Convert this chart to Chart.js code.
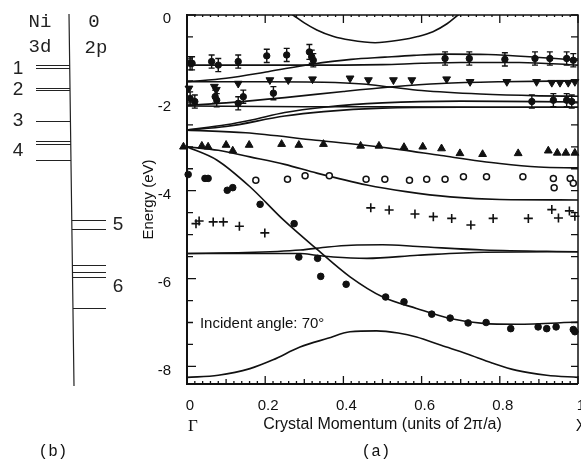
<!DOCTYPE html>
<html>
<head>
<meta charset="utf-8">
<script src="https://cdn.jsdelivr.net/npm/chart.js@4.4.0/dist/chart.umd.min.js"></script>
<style>
  html, body { margin: 0; padding: 0; background: #fff; overflow: hidden; }
</style>
</head>
<body>
<canvas id="bands" width="600" height="463"></canvas>
<script>
// axis ranges and tick labels
const xMin = 0, xMax = 1;
const yMin = -8.4, yMax = 0;
const xTickValues = [0, 0.2, 0.4, 0.6, 0.8, 1];
const yTickValues = [-8, -6, -4, -2, 0];

// calculated bands, [k, E] pairs (k in units of 2pi/a, E in eV)
const bandTop = [[0.25, 0.12], [0.271, 0], [0.30, -0.18], [0.332, -0.34], [0.375, -0.49], [0.417, -0.57], [0.481, -0.63], [0.545, -0.57], [0.59, -0.49], [0.629, -0.38], [0.665, -0.2], [0.693, 0], [0.71, 0.12]];
const bandD1 = [[0, -1.14], [0.2, -1.14], [0.4, -1.14], [0.5, -1.13], [0.6, -1.1], [0.7, -1.08], [0.85, -1.08], [1, -1.14]];
const bandD2 = [[0, -1.52], [0.1, -1.44], [0.207, -1.29], [0.319, -1.12], [0.42, -1.01], [0.506, -0.96], [0.58, -0.92], [0.664, -0.89], [0.77, -0.9], [0.877, -0.95], [1, -1.03]];
const bandD3 = [[0, -1.52], [0.2, -1.52], [0.35, -1.53], [0.45, -1.57], [0.52, -1.64], [0.6, -1.72], [0.75, -1.8], [0.9, -1.84], [1, -1.85]];
const bandD4 = [[0, -2.06], [0.1, -2.0], [0.25, -1.88], [0.4, -1.74], [0.52, -1.64], [0.65, -1.56], [0.8, -1.52], [1, -1.5]];
const bandD5 = [[0, -2.07], [0.3, -2.09], [0.5, -2.09], [0.75, -2.1], [1, -2.1]];
const bandD6 = [[0, -2.62], [0.1, -2.5], [0.165, -2.39], [0.25, -2.22], [0.35, -2.1], [0.5, -2.0], [0.7, -1.96], [1, -1.98]];
const bandD7 = [[0, -2.62], [0.1, -2.54], [0.25, -2.3], [0.35, -2.2], [0.5, -2.12], [0.7, -2.1], [1, -2.1]];
const bandP1 = [[0, -2.62], [0.15, -2.68], [0.33, -2.85], [0.45, -2.96], [0.55, -3.07], [0.65, -3.2], [0.8, -3.38], [0.9, -3.46], [1, -3.48]];
const bandP2 = [[0, -3.0], [0.08, -3.08], [0.161, -3.23], [0.25, -3.4], [0.332, -3.6], [0.46, -3.87], [0.56, -4.02], [0.673, -4.14], [0.8, -4.2], [1, -4.21]];
const bandP3 = [[0, -3.0], [0.076, -3.3], [0.161, -3.91], [0.246, -4.66], [0.332, -5.33], [0.417, -5.96], [0.501, -6.42], [0.587, -6.68], [0.673, -6.91], [0.757, -7.02], [0.843, -7.04], [1, -6.99]];
const bandS1 = [[0, -5.43], [0.15, -5.41], [0.29, -5.35], [0.36, -5.28], [0.42, -5.24], [0.5, -5.23], [0.59, -5.27], [0.76, -5.35], [1, -5.39]];
const bandS2 = [[0, -5.43], [0.29, -5.43], [0.33, -5.47], [0.374, -5.51], [0.46, -5.54], [0.59, -5.47], [0.76, -5.4], [1, -5.39]];
const bandLow = [[0, -8.25], [0.08, -8.2], [0.161, -8.05], [0.22, -7.85], [0.289, -7.56], [0.36, -7.36], [0.417, -7.21], [0.485, -7.19], [0.54, -7.24], [0.587, -7.33], [0.65, -7.52], [0.715, -7.71], [0.78, -7.92], [0.843, -8.09], [0.92, -8.2], [1, -8.25]];

// measured peaks
const errUpper = [[0.008, -1.10], [0.013, -1.10], [0.063, -1.06], [0.08, -1.14], [0.131, -1.06], [0.204, -0.93], [0.255, -0.91], [0.313, -0.84], [0.319, -0.95], [0.323, -1.03], [0.66, -0.99], [0.722, -0.99], [0.813, -1.01], [0.89, -0.99], [0.928, -0.99], [0.971, -0.99], [0.988, -1.03]];
const errUpperSize = [0.15, 0.15, 0.15, 0.15, 0.15, 0.15, 0.15, 0.17, 0.15, 0.15, 0.15, 0.15, 0.15, 0.15, 0.15, 0.15, 0.15];
const errLower = [[0.008, -1.90], [0.02, -1.97], [0.072, -1.86], [0.076, -1.94], [0.131, -2.01], [0.144, -1.86], [0.221, -1.78], [0.882, -1.97], [0.937, -1.94], [0.971, -1.94], [0.984, -1.97]];
const errLowerSize = [0.15, 0.15, 0.15, 0.15, 0.15, 0.15, 0.15, 0.15, 0.15, 0.15, 0.15];
const downTri = [[0.005, -1.67], [0.07, -1.63], [0.075, -1.70], [0.131, -1.56], [0.212, -1.48], [0.259, -1.48], [0.321, -1.46], [0.417, -1.44], [0.464, -1.48], [0.528, -1.48], [0.575, -1.48], [0.664, -1.46], [0.724, -1.52], [0.818, -1.52], [0.894, -1.52], [0.933, -1.54], [0.954, -1.54], [0.975, -1.54], [0.992, -1.52]];
const upTri = [[-0.009, -3.0], [0.038, -2.98], [0.054, -3.0], [0.1, -2.96], [0.117, -3.09], [0.159, -2.96], [0.242, -2.94], [0.286, -2.96], [0.349, -2.94], [0.444, -2.98], [0.491, -2.98], [0.555, -3.01], [0.603, -3.0], [0.651, -3.04], [0.698, -3.15], [0.756, -3.17], [0.847, -3.15], [0.924, -3.09], [0.947, -3.14], [0.969, -3.14], [0.992, -3.14]];
const openCirc = [[0.176, -3.76], [0.257, -3.74], [0.302, -3.66], [0.364, -3.66], [0.458, -3.74], [0.506, -3.74], [0.569, -3.76], [0.613, -3.74], [0.66, -3.74], [0.707, -3.68], [0.766, -3.68], [0.859, -3.68], [0.937, -3.72], [0.939, -3.93], [0.98, -3.72], [0.988, -3.83]];
const crosses = [[0.023, -4.75], [0.031, -4.69], [0.067, -4.71], [0.093, -4.71], [0.134, -4.81], [0.199, -4.96], [0.47, -4.39], [0.517, -4.44], [0.583, -4.53], [0.63, -4.59], [0.677, -4.63], [0.726, -4.78], [0.783, -4.63], [0.873, -4.63], [0.933, -4.43], [0.95, -4.62], [0.978, -4.46], [0.992, -4.58]];
const filledCirc = [[0.003, -3.63], [0.046, -3.72], [0.054, -3.72], [0.103, -3.99], [0.117, -3.93], [0.187, -4.31], [0.274, -4.75], [0.286, -5.51], [0.334, -5.54], [0.342, -5.95], [0.407, -6.13], [0.508, -6.42], [0.555, -6.53], [0.626, -6.81], [0.673, -6.9], [0.719, -7.01], [0.765, -7.0], [0.828, -7.14], [0.898, -7.1], [0.92, -7.14], [0.944, -7.1], [0.988, -7.16], [0.992, -7.21]];

// panel (b): cluster levels (eV)
const niLevels = [-1.14, -1.21, -1.67, -1.71, -2.41, -2.86, -2.94, -3.30];
const oLevels = [-4.67, -4.88, -5.68, -5.85, -5.96, -6.66];
const niTags = ['1', '2', '3', '4'];
const niTagE = [-1.22, -1.70, -2.40, -3.09];
const oTags = ['5', '6'];
const oTagE = [-4.78, -6.18];

const ink = '#111';
const toXY = pts => pts.map(([k, e]) => ({x: k, y: e}));

const bandLines = [bandTop, bandD1, bandD2, bandD3, bandD4, bandD5, bandD6, bandD7,
  bandP1, bandP2, bandP3, bandS1, bandS2, bandLow].map(b => ({
  data: toXY(b),
  showLine: true,
  borderColor: ink,
  borderWidth: 1.6,
  pointRadius: 0,
  cubicInterpolationMode: 'monotone',
  clip: 0
}));

const markers = [
  {data: toXY(errUpper), errors: errUpperSize, pointStyle: 'circle', pointRadius: 3.2, backgroundColor: ink, borderColor: ink, borderWidth: 1},
  {data: toXY(errLower), errors: errLowerSize, pointStyle: 'circle', pointRadius: 3.2, backgroundColor: ink, borderColor: ink, borderWidth: 1},
  {data: toXY(downTri), pointStyle: 'triangle', rotation: 180, pointRadius: 4.5, backgroundColor: ink, borderColor: ink, borderWidth: 1},
  {data: toXY(upTri), pointStyle: 'triangle', pointRadius: 4.5, backgroundColor: ink, borderColor: ink, borderWidth: 1},
  {data: toXY(openCirc), pointStyle: 'circle', pointRadius: 3, backgroundColor: '#fff', borderColor: ink, borderWidth: 1.5},
  {data: toXY(crosses), pointStyle: 'cross', pointRadius: 4.5, borderColor: ink, borderWidth: 1.6},
  {data: toXY(filledCirc), pointStyle: 'circle', pointRadius: 3.3, backgroundColor: ink, borderColor: ink, borderWidth: 1}
].map(d => Object.assign(d, {showLine: false, clip: false}));

// vertical error bars with small caps
const errorBars = {
  id: 'errorBars',
  afterDatasetsDraw(chart) {
    const {ctx, scales: {x, y}} = chart;
    ctx.save();
    ctx.strokeStyle = ink;
    ctx.lineWidth = 1.4;
    chart.data.datasets.forEach(ds => {
      if (!ds.errors) return;
      ds.data.forEach((p, i) => {
        const px = x.getPixelForValue(p.x);
        const y1 = y.getPixelForValue(p.y + ds.errors[i]);
        const y2 = y.getPixelForValue(p.y - ds.errors[i]);
        ctx.beginPath();
        ctx.moveTo(px, y1); ctx.lineTo(px, y2);
        ctx.moveTo(px - 3, y1); ctx.lineTo(px + 3, y1);
        ctx.moveTo(px - 3, y2); ctx.lineTo(px + 3, y2);
        ctx.stroke();
      });
    });
    ctx.restore();
  }
};

// box, inward ticks, extra labels and the level diagram on the left
const frame = {
  id: 'frame',
  afterDraw(chart) {
    const {ctx, chartArea: a, scales: {x, y}} = chart;
    ctx.save();
    ctx.strokeStyle = ink;

    ctx.lineWidth = 2;
    ctx.beginPath();
    ctx.moveTo(a.left, a.top - 1); ctx.lineTo(a.left, a.bottom); ctx.lineTo(a.right, a.bottom);
    ctx.stroke();
    ctx.lineWidth = 1.5;
    ctx.beginPath();
    ctx.moveTo(a.left, a.top); ctx.lineTo(a.right, a.top); ctx.lineTo(a.right, a.bottom);
    ctx.stroke();

    ctx.lineWidth = 1.3;
    ctx.beginPath();
    for (let i = 0; i <= 16; i++) {
      const e = -8 + i * 0.5;
      const py = y.getPixelForValue(e);
      const len = i % 4 === 0 ? 9 : 6;
      ctx.moveTo(a.left, py); ctx.lineTo(a.left + len, py);
      ctx.moveTo(a.right, py); ctx.lineTo(a.right - 7, py);
    }
    for (let i = 0; i <= 50; i++) {
      const px = x.getPixelForValue(i * 0.02);
      const lenB = i % 10 === 0 ? 8 : (i % 5 === 0 ? 5 : 3);
      const lenT = i % 10 === 0 ? 8 : 2;
      ctx.moveTo(px, a.bottom); ctx.lineTo(px, a.bottom - lenB);
      ctx.moveTo(px, a.top); ctx.lineTo(px, a.top + lenT);
    }
    ctx.stroke();

    ctx.fillStyle = ink;
    ctx.textBaseline = 'middle';
    ctx.textAlign = 'left';
    ctx.font = '15px "Liberation Sans", Arial, sans-serif';
    ctx.fillText('Incident angle: 70°', x.getPixelForValue(0.033), y.getPixelForValue(-7.02));

    ctx.textAlign = 'center';
    ctx.font = '17px "Liberation Serif", serif';
    ctx.fillText('Γ', x.getPixelForValue(xMin) + 6, 427);
    ctx.font = '16px "Liberation Sans", Arial, sans-serif';
    ctx.fillText('X', x.getPixelForValue(xMax) + 3, 427);
    ctx.font = '16px "Liberation Mono", monospace';
    ctx.fillText('(a)', 376, 452);
    ctx.fillText('(b)', 53, 452);

    // panel (b)
    const top = y.getPixelForValue(yMax) - 1;
    const bot = y.getPixelForValue(yMin) + 2;
    const divX = py => 69 + 5 * (py - top) / (bot - top);
    ctx.lineWidth = 1.2;
    ctx.strokeStyle = '#222';
    ctx.beginPath();
    ctx.moveTo(divX(top), top); ctx.lineTo(divX(bot), bot);
    niLevels.forEach(e => {
      const py = Math.round(y.getPixelForValue(e)) + 0.5;
      ctx.moveTo(36, py); ctx.lineTo(divX(py), py);
    });
    oLevels.forEach(e => {
      const py = Math.round(y.getPixelForValue(e)) + 0.5;
      ctx.moveTo(divX(py), py); ctx.lineTo(106, py);
    });
    ctx.stroke();

    ctx.fillStyle = '#222';
    ctx.font = '19px "Liberation Mono", monospace';
    ctx.fillText('Ni', 40, 22);
    ctx.fillText('3d', 40, 47);
    ctx.fillText('0', 94, 22);
    ctx.fillText('2p', 96, 48);
    ctx.font = '19px "Liberation Sans", Arial, sans-serif';
    niTags.forEach((t, i) => ctx.fillText(t, 18, y.getPixelForValue(niTagE[i])));
    oTags.forEach((t, i) => ctx.fillText(t, 118, y.getPixelForValue(oTagE[i])));
    ctx.restore();
  }
};

Chart.defaults.font.family = '"Liberation Sans", Arial, sans-serif';
Chart.defaults.color = ink;

new Chart(document.getElementById('bands'), {
  type: 'scatter',
  data: {datasets: markers.concat(bandLines)},
  options: {
    responsive: false,
    animation: false,
    layout: {padding: {left: 140, right: 22, top: 15, bottom: 29}},
    plugins: {legend: {display: false}, tooltip: {enabled: false}},
    scales: {
      x: {
        type: 'linear',
        min: xMin,
        max: xMax,
        afterBuildTicks: s => { s.ticks = xTickValues.map(v => ({value: v})); },
        afterFit: s => { s.height = 50; s.paddingLeft = 0; s.paddingRight = 0; },
        grid: {display: false, drawTicks: false},
        border: {display: false},
        ticks: {font: {size: 15}, padding: 13, labelOffset: 3, maxRotation: 0, autoSkip: false, callback: v => String(v)},
        title: {display: true, text: 'Crystal Momentum (units of 2π/a)', font: {size: 16}, padding: 0}
      },
      y: {
        min: yMin,
        max: yMax,
        afterBuildTicks: s => { s.ticks = yTickValues.map(v => ({value: v})); },
        afterFit: s => { s.width = 47; s.paddingTop = 0; s.paddingBottom = 0; },
        grid: {display: false, drawTicks: false},
        border: {display: false},
        ticks: {font: {size: 15}, padding: 16, labelOffset: 4, callback: v => String(v)},
        title: {display: true, text: 'Energy (eV)', font: {size: 15}, padding: 0}
      }
    }
  },
  plugins: [errorBars, frame]
});
</script>
</body>
</html>
